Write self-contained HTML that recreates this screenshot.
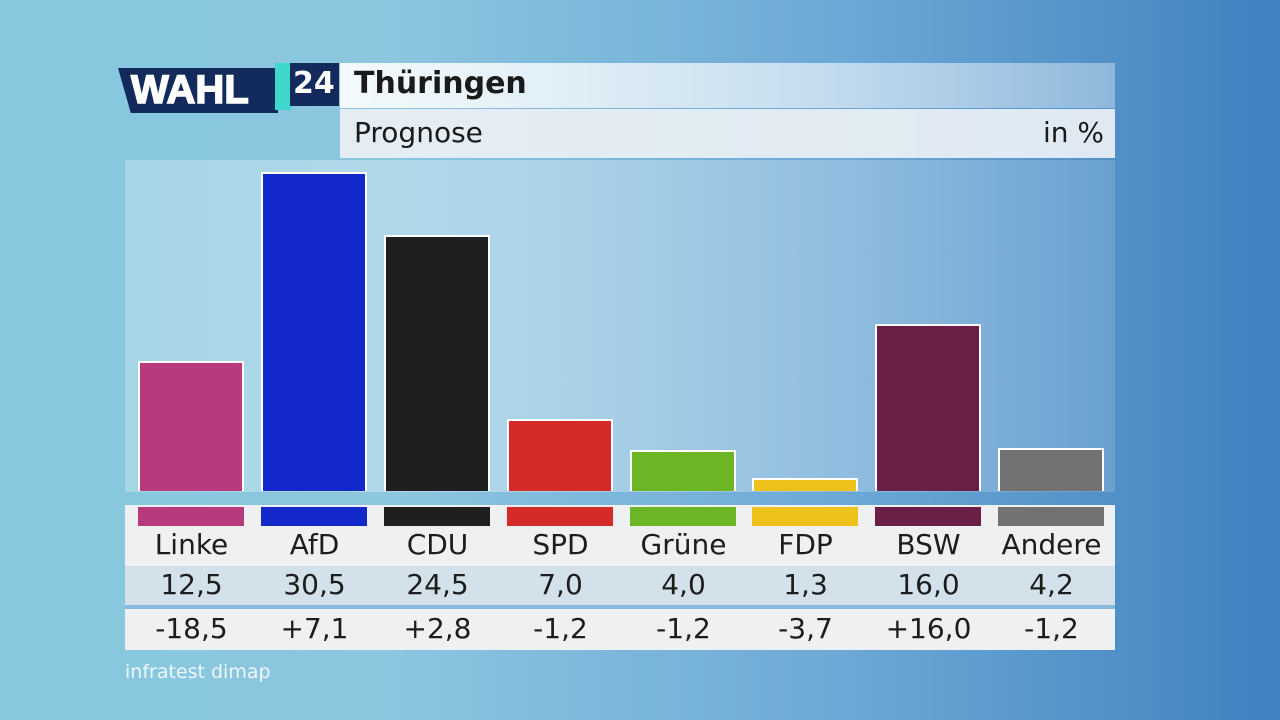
<!DOCTYPE html>
<html><head><meta charset="utf-8"><style>
*{margin:0;padding:0;box-sizing:border-box}
body{width:1280px;height:720px;overflow:hidden;position:relative;font-family:"DejaVu Sans","Liberation Sans",sans-serif;
background:linear-gradient(90deg,#86c9de 0%,#8cc6df 30%,#6ea9d6 65%,#3f82c0 100%);}
.abs{position:absolute}
.panel{left:125px;top:160px;width:990px;height:332px;background:linear-gradient(90deg,rgba(255,255,255,0.25),rgba(255,255,255,0.35) 40%,rgba(255,255,255,0.15));}
.bar{position:absolute;width:106px;border:2px solid #fff;border-bottom:none}
.strip{position:absolute;top:507px;height:19px;width:106px}
.tbl{left:125px;top:505px;width:990px;height:145px;background:#eef0f1}
.row{position:absolute;left:125px;width:990px;font-size:28px;color:#1d1d1d}
.row span{position:absolute;width:123px;text-align:center;top:0}
</style></head><body>
<div class="abs" style="left:340px;top:63px;width:775px;height:45px;background:linear-gradient(90deg,rgba(255,255,255,0.9),rgba(255,255,255,0.6) 60%,rgba(255,255,255,0.35))"></div>
<div class="abs" style="left:340px;top:109px;width:775px;height:49px;background:rgba(235,240,244,0.93)"></div>
<div class="abs" style="left:354px;top:66px;font-size:30px;font-weight:bold;color:#1a1a1a">Thüringen</div>
<div class="abs" style="left:354px;top:116px;font-size:28px;color:#1a1a1a">Prognose</div>
<div class="abs" style="left:1043px;top:116px;font-size:28px;color:#1a1a1a">in %</div>
<div class="abs" style="left:118px;top:68px;width:160px;height:45px;background:#122a5c;clip-path:polygon(0 0,100% 0,100% 100%,8% 100%)"></div>
<div class="abs" style="left:275px;top:63px;width:16px;height:47px;background:#3fd6cc"></div>
<div class="abs" style="left:290px;top:63px;width:49px;height:43px;background:#122a5c"></div>
<div class="abs" style="left:131px;top:68px;font-size:40px;font-weight:bold;color:#fff;letter-spacing:0px;font-family:'Liberation Sans',sans-serif;-webkit-text-stroke:1.5px #fff">WAHL</div>
<div class="abs" style="left:293px;top:66px;font-size:30px;font-weight:bold;color:#fff">24</div>
<div class="abs panel"></div>
<div class="bar" style="left:138px;top:361px;height:130px;background:#b63a7c"></div>
<div class="bar" style="left:261px;top:172px;height:319px;background:#1228c8"></div>
<div class="bar" style="left:384px;top:235px;height:256px;background:#1f1f1f"></div>
<div class="bar" style="left:507px;top:419px;height:72px;background:#d42a28"></div>
<div class="bar" style="left:630px;top:450px;height:41px;background:#6cb524"></div>
<div class="bar" style="left:752px;top:478px;height:13px;background:#eec21a"></div>
<div class="bar" style="left:875px;top:324px;height:167px;background:#6a2046"></div>
<div class="bar" style="left:998px;top:448px;height:43px;background:#727272"></div>
<div class="abs tbl"></div>
<div class="strip" style="left:138px;background:#b63a7c"></div>
<div class="strip" style="left:261px;background:#1228c8"></div>
<div class="strip" style="left:384px;background:#1f1f1f"></div>
<div class="strip" style="left:507px;background:#d42a28"></div>
<div class="strip" style="left:630px;background:#6cb524"></div>
<div class="strip" style="left:752px;background:#eec21a"></div>
<div class="strip" style="left:875px;background:#6a2046"></div>
<div class="strip" style="left:998px;background:#727272"></div>
<div class="abs" style="left:125px;top:566px;width:990px;height:40px;background:#d3e2ea"></div>
<div class="abs" style="left:125px;top:605px;width:990px;height:4px;background:#8ab9dc"></div>
<div class="row" style="top:528px"><span style="left:5px">Linke</span><span style="left:128px">AfD</span><span style="left:251px">CDU</span><span style="left:374px">SPD</span><span style="left:497px">Grüne</span><span style="left:619px">FDP</span><span style="left:742px">BSW</span><span style="left:865px">Andere</span></div>
<div class="row" style="top:568px"><span style="left:5px">12,5</span><span style="left:128px">30,5</span><span style="left:251px">24,5</span><span style="left:374px">7,0</span><span style="left:497px">4,0</span><span style="left:619px">1,3</span><span style="left:742px">16,0</span><span style="left:865px">4,2</span></div>
<div class="row" style="top:612px"><span style="left:5px">-18,5</span><span style="left:128px">+7,1</span><span style="left:251px">+2,8</span><span style="left:374px">-1,2</span><span style="left:497px">-1,2</span><span style="left:619px">-3,7</span><span style="left:742px">+16,0</span><span style="left:865px">-1,2</span></div>
<div class="abs" style="left:125px;top:661px;font-size:19px;color:#eef6fa">infratest dimap</div>
</body></html>
